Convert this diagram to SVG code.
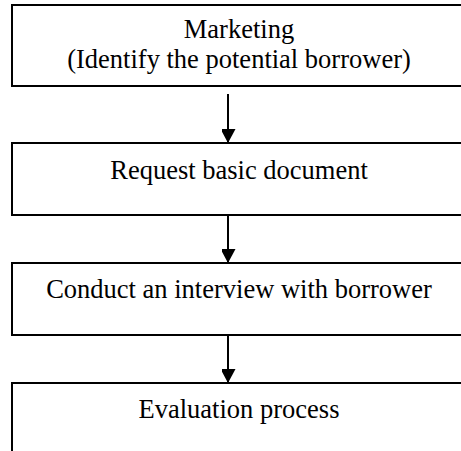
<svg xmlns="http://www.w3.org/2000/svg" width="461" height="451" viewBox="0 0 461 451">
<defs>
<style>
.box{fill:#fff;stroke:#000;stroke-width:2}
.t{font-family:"Liberation Serif","Times New Roman",serif;font-size:26.5px;fill:#000;text-anchor:middle}
.c{stroke:#000;stroke-width:2;fill:none}
</style>
<marker id="ah" markerUnits="userSpaceOnUse" markerWidth="16" markerHeight="14" refX="14" refY="7.5" orient="auto">
<path d="M0,0 L14,7.5 L0,15 Z" fill="#000"/>
</marker>
</defs>
<rect width="461" height="451" fill="#fff"/>
<g id="n1"><rect class="box" x="12" y="5" width="454" height="81"/>
<text class="t" x="239" y="38">Marketing</text>
<text class="t" x="239" y="68">(Identify the potential borrower)</text></g>
<g id="n2"><rect class="box" x="12" y="143" width="454" height="72"/>
<text class="t" x="239" y="179">Request basic document</text></g>
<g id="n3"><rect class="box" x="12" y="263" width="454" height="72"/>
<text class="t" x="239" y="298">Conduct an interview with borrower</text></g>
<g id="n4"><rect class="box" x="12" y="383" width="454" height="90"/>
<text class="t" x="239" y="418">Evaluation process</text></g>
<g id="connectors">
<line class="c" x1="228" y1="94" x2="228" y2="143" marker-end="url(#ah)"/>
<line class="c" x1="228" y1="215" x2="228" y2="263" marker-end="url(#ah)"/>
<line class="c" x1="228" y1="335" x2="228" y2="383" marker-end="url(#ah)"/>
</g>
</svg>
